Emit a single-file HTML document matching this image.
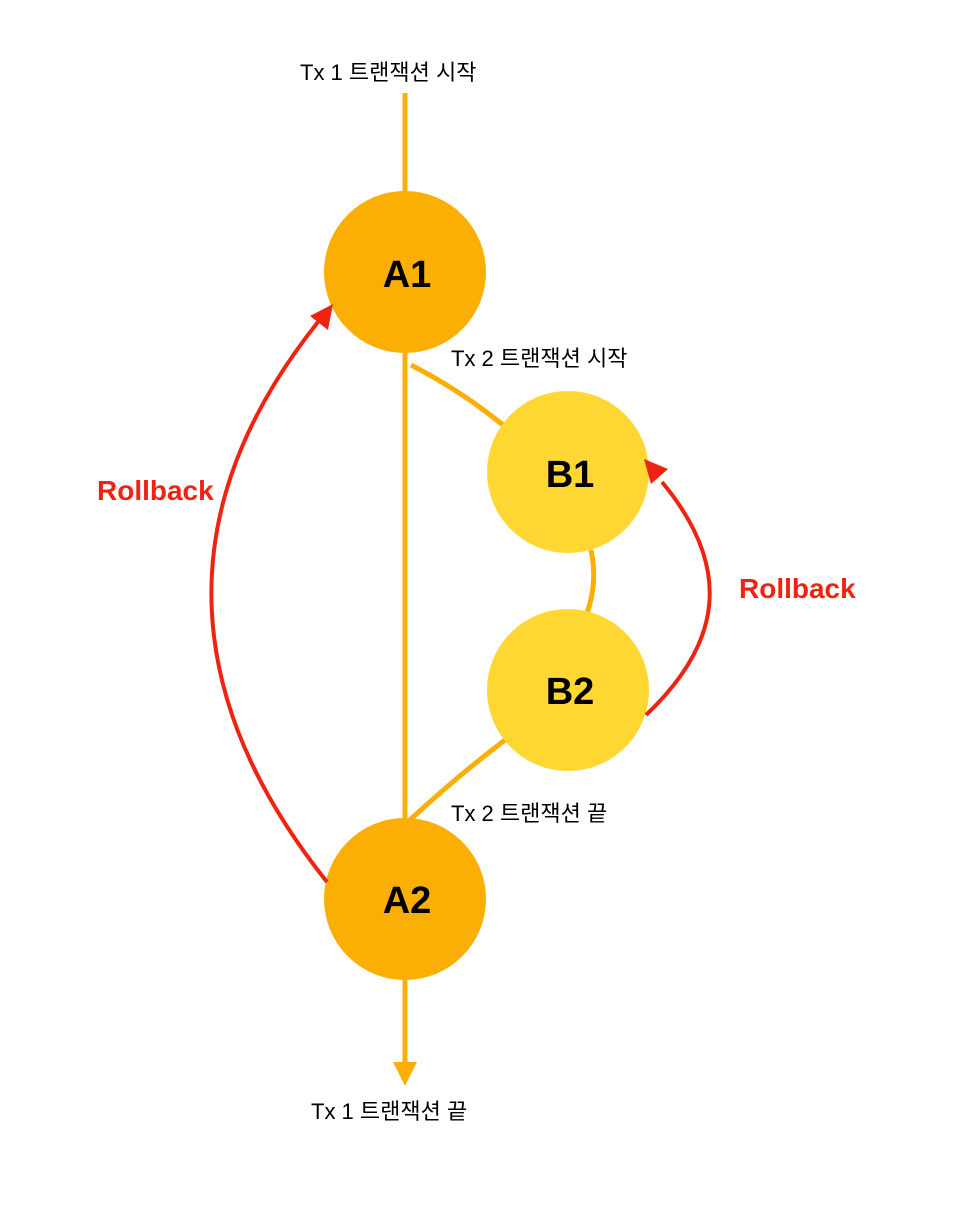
<!DOCTYPE html>
<html><head><meta charset="utf-8"><style>
html,body{margin:0;padding:0;background:#fff;}
svg{display:block;}
text{font-family:"Liberation Sans","Noto Sans CJK KR",sans-serif;}
</style></head><body>
<svg width="966" height="1216" viewBox="0 0 966 1216" xmlns="http://www.w3.org/2000/svg">
<g stroke="#FBAE03" stroke-width="5" fill="none">
<line x1="405" y1="93" x2="405" y2="195"/>
<line x1="405" y1="350" x2="405" y2="820"/>
<line x1="405" y1="975" x2="405" y2="1064"/>
<path d="M411,365 Q460,390 503,425"/>
<path d="M591,550 Q598,582 587,613"/>
<path d="M505,740 Q455,778 410,820"/>
</g>
<polygon points="393,1062 417,1062 405,1086" fill="#FBAE03"/>
<circle cx="405" cy="272" r="81" fill="#FBAE03"/>
<circle cx="405" cy="899" r="81" fill="#FBAE03"/>
<circle cx="568" cy="472" r="81" fill="#FED733"/>
<circle cx="568" cy="690" r="81" fill="#FED733"/>
<g font-weight="bold" font-size="38" text-anchor="middle" fill="#000">
<text x="407" y="287">A1</text>
<text x="570" y="487">B1</text>
<text x="570" y="704">B2</text>
<text x="407" y="913">A2</text>
</g>
<g stroke="#EE2311" stroke-width="4" fill="none">
<path d="M327,882 C190,710 160,520 318,322"/>
<path d="M646,715 C720,645 735,570 662,482"/>
</g>
<polygon points="333,304 328,330 310,316" fill="#EE2311"/>
<polygon points="644,459 668,469 651,484" fill="#EE2311"/>
<g font-weight="bold" font-size="28" fill="#EE2311">
<text x="97" y="500">Rollback</text>
<text x="739" y="598">Rollback</text>
</g>
<g font-size="22" fill="#000">
<text x="300" y="80">Tx 1 트랜잭션 시작</text>
<text x="451" y="366">Tx 2 트랜잭션 시작</text>
<text x="451" y="821">Tx 2 트랜잭션 끝</text>
<text x="311" y="1119">Tx 1 트랜잭션 끝</text>
</g>
</svg>
</body></html>
